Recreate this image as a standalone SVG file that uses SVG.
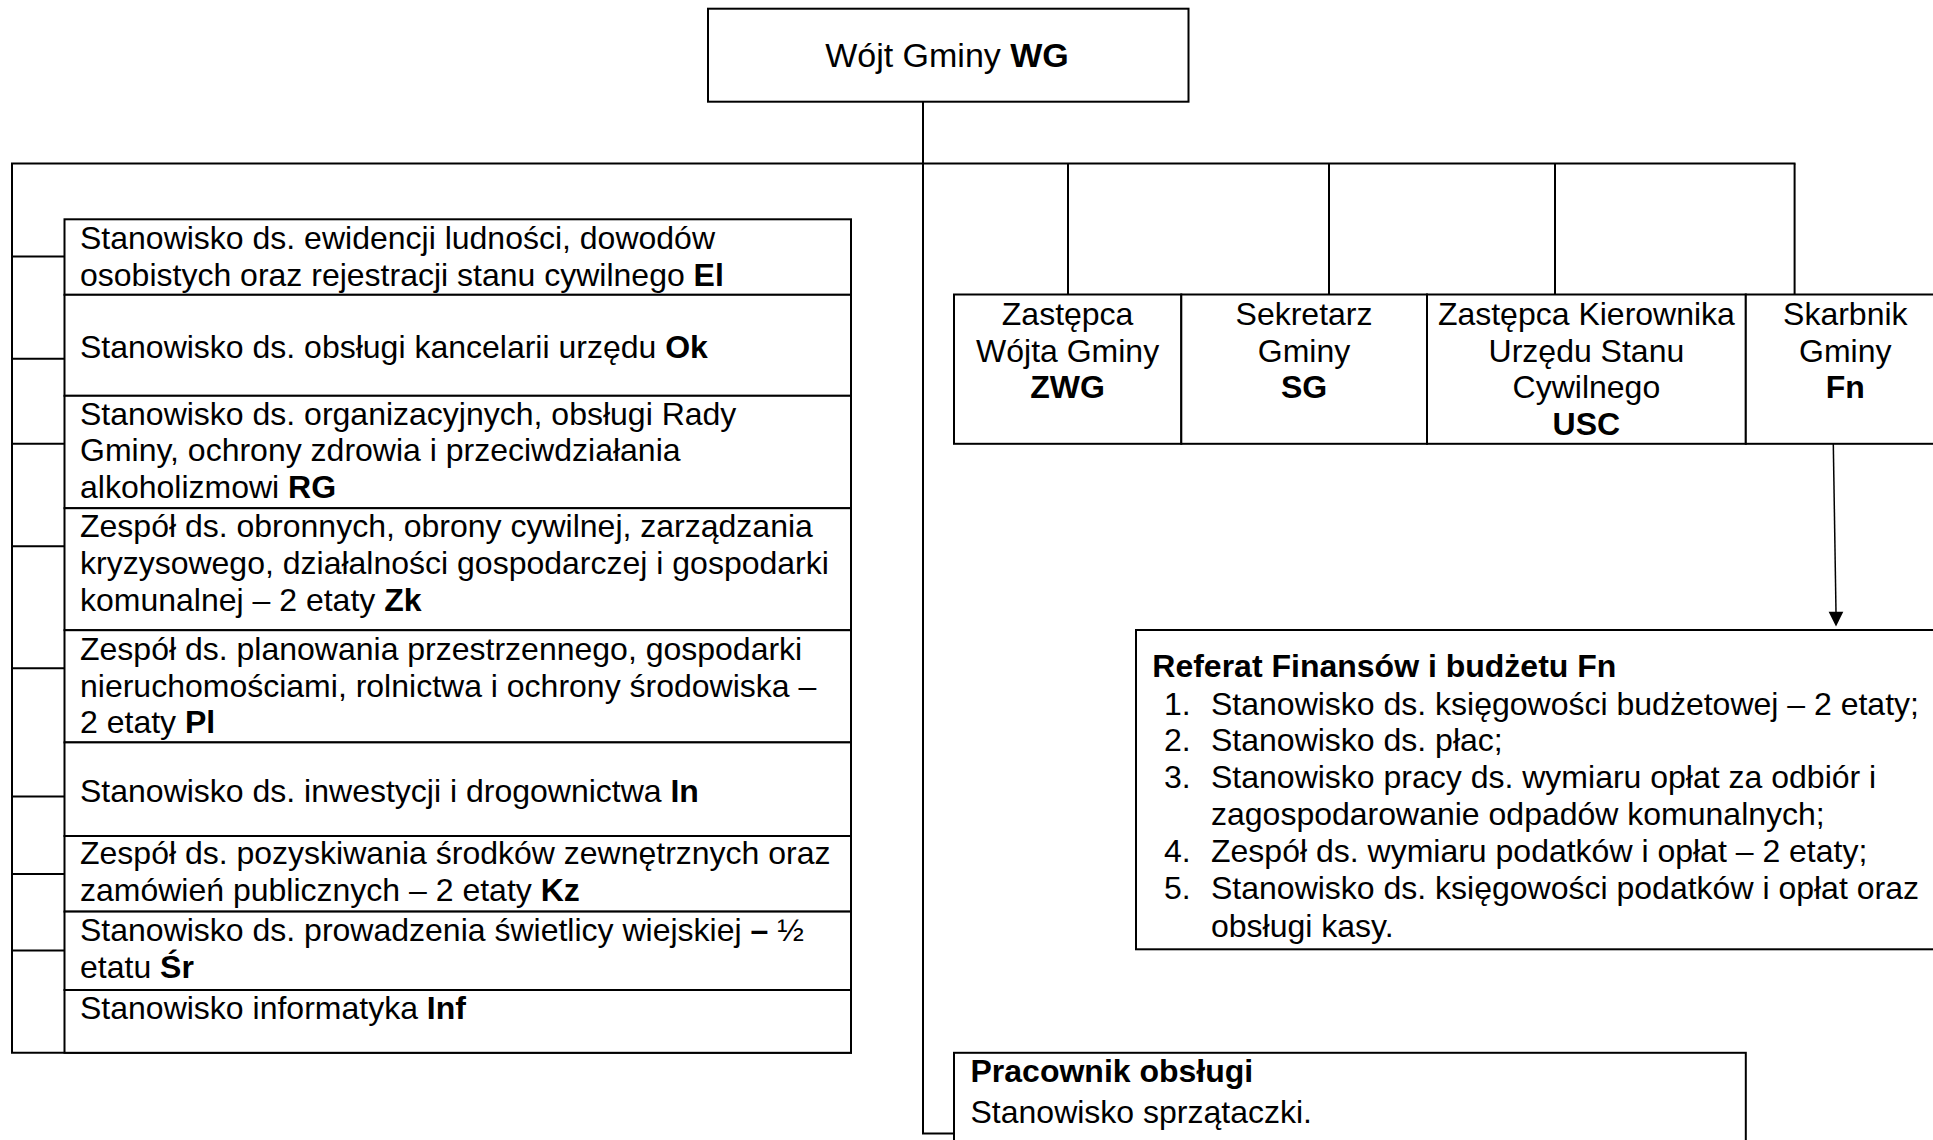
<svg xmlns="http://www.w3.org/2000/svg" width="1933" height="1140" viewBox="0 0 1933 1140">
<defs>
<style>
text{font-family:"Liberation Sans",Arial,"DejaVu Sans",sans-serif;font-size:32px;fill:#000}
.b{font-weight:bold}
.c{text-anchor:middle}
.big{font-size:34px}
.box{fill:#fff;stroke:#000;stroke-width:2}
.ln{fill:none;stroke:#000;stroke-width:2}
.thin{fill:none;stroke:#000;stroke-width:1.5}
</style>
</defs>
<rect width="1933" height="1140" fill="#fff"/>

<g id="connectors">
<line class="ln" x1="923" y1="101.7" x2="923" y2="1133.5"/>
<line class="ln" x1="922" y1="1133.5" x2="955" y2="1133.5"/>
<line class="ln" x1="11" y1="163.6" x2="1795.5" y2="163.6"/>
<line class="ln" x1="1068" y1="163.6" x2="1068" y2="294.5"/>
<line class="ln" x1="1329" y1="163.6" x2="1329" y2="294.5"/>
<line class="ln" x1="1555" y1="163.6" x2="1555" y2="294.5"/>
<line class="ln" x1="1794.6" y1="163.6" x2="1794.6" y2="294.5"/>
<path d="M1833.3,444 L1836,612" class="thin"/>
<path d="M1828.6,611.7 L1843.3,611.7 L1836,626.5 Z" fill="#000"/>
</g>

<g id="n-wg">
<rect class="box" x="708" y="8.7" width="480.5" height="93"/>
<text x="947" y="67" class="c big">Wójt Gminy <tspan class="b">WG</tspan></text>
</g>

<g id="n-left-frame">
<line class="ln" x1="12" y1="163.6" x2="12" y2="1053"/>
<line class="ln" x1="11" y1="1052.8" x2="852" y2="1052.8"/>
<line class="ln" x1="12" y1="256.5" x2="65" y2="256.5"/>
<line class="ln" x1="12" y1="358.8" x2="65" y2="358.8"/>
<line class="ln" x1="12" y1="443.7" x2="65" y2="443.7"/>
<line class="ln" x1="12" y1="546.3" x2="65" y2="546.3"/>
<line class="ln" x1="12" y1="668.2" x2="65" y2="668.2"/>
<line class="ln" x1="12" y1="796.6" x2="65" y2="796.6"/>
<line class="ln" x1="12" y1="874" x2="65" y2="874"/>
<line class="ln" x1="12" y1="950.4" x2="65" y2="950.4"/>
</g>

<g id="n-el">
<rect class="box" x="64.5" y="219.3" width="786.5" height="75.5"/>
<text x="80" y="249.3">Stanowisko ds. ewidencji ludności, dowodów</text>
<text x="80" y="285.6">osobistych oraz rejestracji stanu cywilnego <tspan class="b">El</tspan></text>
</g>
<g id="n-ok">
<rect class="box" x="64.5" y="294.8" width="786.5" height="101"/>
<text x="80" y="358.3">Stanowisko ds. obsługi kancelarii urzędu <tspan class="b">Ok</tspan></text>
</g>
<g id="n-rg">
<rect class="box" x="64.5" y="395.8" width="786.5" height="112.4"/>
<text x="80" y="424.6">Stanowisko ds. organizacyjnych, obsługi Rady</text>
<text x="80" y="461.2">Gminy, ochrony zdrowia i przeciwdziałania</text>
<text x="80" y="497.8">alkoholizmowi <tspan class="b">RG</tspan></text>
</g>
<g id="n-zk">
<rect class="box" x="64.5" y="508.2" width="786.5" height="122"/>
<text x="80" y="537.3">Zespół ds. obronnych, obrony cywilnej, zarządzania</text>
<text x="80" y="573.9">kryzysowego, działalności gospodarczej i gospodarki</text>
<text x="80" y="610.5">komunalnej – 2 etaty <tspan class="b">Zk</tspan></text>
</g>
<g id="n-pl">
<rect class="box" x="64.5" y="630.2" width="786.5" height="112.2"/>
<text x="80" y="660">Zespół ds. planowania przestrzennego, gospodarki</text>
<text x="80" y="696.6">nieruchomościami, rolnictwa i ochrony środowiska –</text>
<text x="80" y="733.2">2 etaty <tspan class="b">Pl</tspan></text>
</g>
<g id="n-in">
<rect class="box" x="64.5" y="742.4" width="786.5" height="93.6"/>
<text x="80" y="802.3">Stanowisko ds. inwestycji i drogownictwa <tspan class="b">In</tspan></text>
</g>
<g id="n-kz">
<rect class="box" x="64.5" y="836" width="786.5" height="75.6"/>
<text x="80" y="864.3">Zespół ds. pozyskiwania środków zewnętrznych oraz</text>
<text x="80" y="900.9">zamówień publicznych – 2 etaty <tspan class="b">Kz</tspan></text>
</g>
<g id="n-sr">
<rect class="box" x="64.5" y="911.6" width="786.5" height="78.4"/>
<text x="80" y="941">Stanowisko ds. prowadzenia świetlicy wiejskiej <tspan class="b">–</tspan> ½</text>
<text x="80" y="977.6">etatu <tspan class="b">Śr</tspan></text>
</g>
<g id="n-inf">
<rect class="box" x="64.5" y="990" width="786.5" height="62.8"/>
<text x="80" y="1018.7">Stanowisko informatyka <tspan class="b">Inf</tspan></text>
</g>

<g id="n-zwg">
<rect class="box" x="954" y="294.5" width="227.3" height="149.3"/>
<text x="1067.6" y="325" class="c">Zastępca</text>
<text x="1067.6" y="361.6" class="c">Wójta Gminy</text>
<text x="1067.6" y="398.2" class="c b">ZWG</text>
</g>
<g id="n-sg">
<rect class="box" x="1181.3" y="294.5" width="245.7" height="149.3"/>
<text x="1304" y="325" class="c">Sekretarz</text>
<text x="1304" y="361.6" class="c">Gminy</text>
<text x="1304" y="398.2" class="c b">SG</text>
</g>
<g id="n-usc">
<rect class="box" x="1427" y="294.5" width="318.8" height="149.3"/>
<text x="1586.4" y="325" class="c">Zastępca Kierownika</text>
<text x="1586.4" y="361.6" class="c">Urzędu Stanu</text>
<text x="1586.4" y="398.2" class="c">Cywilnego</text>
<text x="1586.4" y="434.8" class="c b">USC</text>
</g>
<g id="n-fn">
<rect class="box" x="1745.8" y="294.5" width="220" height="149.3"/>
<text x="1845.3" y="325" class="c">Skarbnik</text>
<text x="1845.3" y="361.6" class="c">Gminy</text>
<text x="1845.3" y="398.2" class="c b">Fn</text>
</g>

<g id="n-referat">
<rect class="box" x="1136" y="630" width="820" height="319.3"/>
<text x="1152.3" y="676.5" class="b">Referat Finansów i budżetu Fn</text>
<text x="1164" y="714.6">1.</text>
<text x="1211" y="714.6">Stanowisko ds. księgowości budżetowej – 2 etaty;</text>
<text x="1164" y="751">2.</text>
<text x="1211" y="751">Stanowisko ds. płac;</text>
<text x="1164" y="787.8">3.</text>
<text x="1211" y="787.8">Stanowisko pracy ds. wymiaru opłat za odbiór i</text>
<text x="1211" y="824.8">zagospodarowanie odpadów komunalnych;</text>
<text x="1164" y="862.2">4.</text>
<text x="1211" y="862.2">Zespół ds. wymiaru podatków i opłat – 2 etaty;</text>
<text x="1164" y="899.4">5.</text>
<text x="1211" y="899.4">Stanowisko ds. księgowości podatków i opłat oraz</text>
<text x="1211" y="936.6">obsługi kasy.</text>
</g>

<g id="n-pracownik">
<rect class="box" x="954" y="1052.8" width="791.8" height="120"/>
<text x="970.5" y="1082.4" class="b">Pracownik obsługi</text>
<text x="970.5" y="1123">Stanowisko sprzątaczki.</text>
</g>
</svg>
